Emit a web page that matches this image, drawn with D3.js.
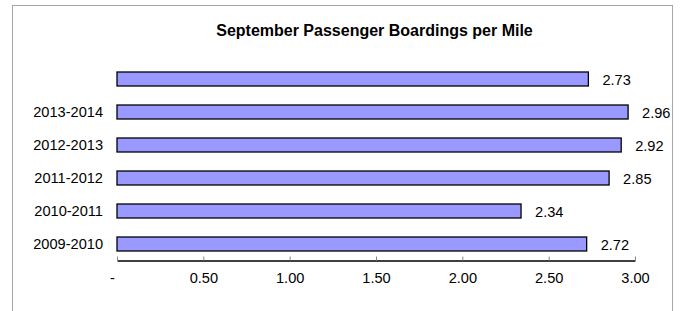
<!DOCTYPE html>
<html>
<head>
<meta charset="utf-8">
<script src="https://cdn.jsdelivr.net/npm/d3@7"></script>
<style>
  body { margin: 0; background: #fff; }
  text { font-family: "Liberation Sans", Arial, sans-serif; fill: #000; }
</style>
</head>
<body>
<div id="chart"></div>
<script>
// horizontal bar chart, categories listed bottom-up like the source spreadsheet

const categories = ["2009-2010", "2010-2011", "2011-2012", "2012-2013", "2013-2014", ""];
const values = [2.72, 2.34, 2.85, 2.92, 2.96, 2.73];
const tickValues = [0, 0.5, 1, 1.5, 2, 2.5, 3];
const title = "September Passenger Boardings per Mile";

const WIDTH = 681, HEIGHT = 311;
const FONT = '14.6px';

const svg = d3.select('#chart').append('svg')
  .attr('width', WIDTH)
  .attr('height', HEIGHT);

// chart frame (bottom edge falls outside the picture)
svg.append('rect')
  .attr('x', 12.5).attr('y', 5.5)
  .attr('width', 660).attr('height', 330)
  .attr('fill', 'none')
  .attr('stroke', '#a6a6a6');

svg.append('text')
  .attr('x', 374.5).attr('y', 36)
  .attr('text-anchor', 'middle')
  .style('font-size', '16px')
  .style('font-weight', 'bold')
  .text(title);

const x = d3.scaleLinear().domain([0, 3]).range([117, 635]);

const y = d3.scaleBand()
  .domain(d3.range(categories.length))
  .range([260.5, 62.5])
  .paddingInner(0.576)
  .paddingOuter(0.288);

// category labels
svg.append('g')
  .selectAll('text')
  .data(categories)
  .join('text')
  .attr('x', 103)
  .attr('y', (d, i) => y(i) + y.bandwidth() / 2)
  .attr('dy', '0.36em')
  .attr('text-anchor', 'end')
  .style('font-size', FONT)
  .text(d => d);

// bars
svg.append('g')
  .selectAll('rect')
  .data(values)
  .join('rect')
  .attr('x', x(0))
  .attr('y', (d, i) => y(i))
  .attr('width', d => x(d) - x(0))
  .attr('height', y.bandwidth())
  .attr('fill', '#9999ff')
  .attr('stroke', '#000')
  .attr('stroke-width', 1.3);

// value labels
svg.append('g')
  .selectAll('text')
  .data(values)
  .join('text')
  .attr('x', d => x(d) + 14)
  .attr('y', (d, i) => y(i) + y.bandwidth() / 2)
  .attr('dy', '0.42em')
  .style('font-size', FONT)
  .text(d => d.toFixed(2));

// x axis, ticks point up into the plot
const axis = d3.axisBottom(x)
  .tickValues(tickValues)
  .tickSizeInner(-4)
  .tickSizeOuter(0)
  .tickPadding(12)
  .tickFormat(d => d === 0 ? '-' : d.toFixed(2));

const gx = svg.append('g')
  .attr('transform', 'translate(0,260.5)')
  .call(axis);

gx.select('.domain').attr('stroke', '#000').attr('stroke-width', 1.3);
gx.selectAll('.tick line').attr('stroke', '#888');
gx.selectAll('.tick text')
  .style('font-size', FONT)
  .style('font-family', '"Liberation Sans", Arial, sans-serif')
  .attr('fill', '#000');
gx.selectAll('.tick').filter(d => d === 0).select('text').attr('dx', -5);
</script>
</body>
</html>
